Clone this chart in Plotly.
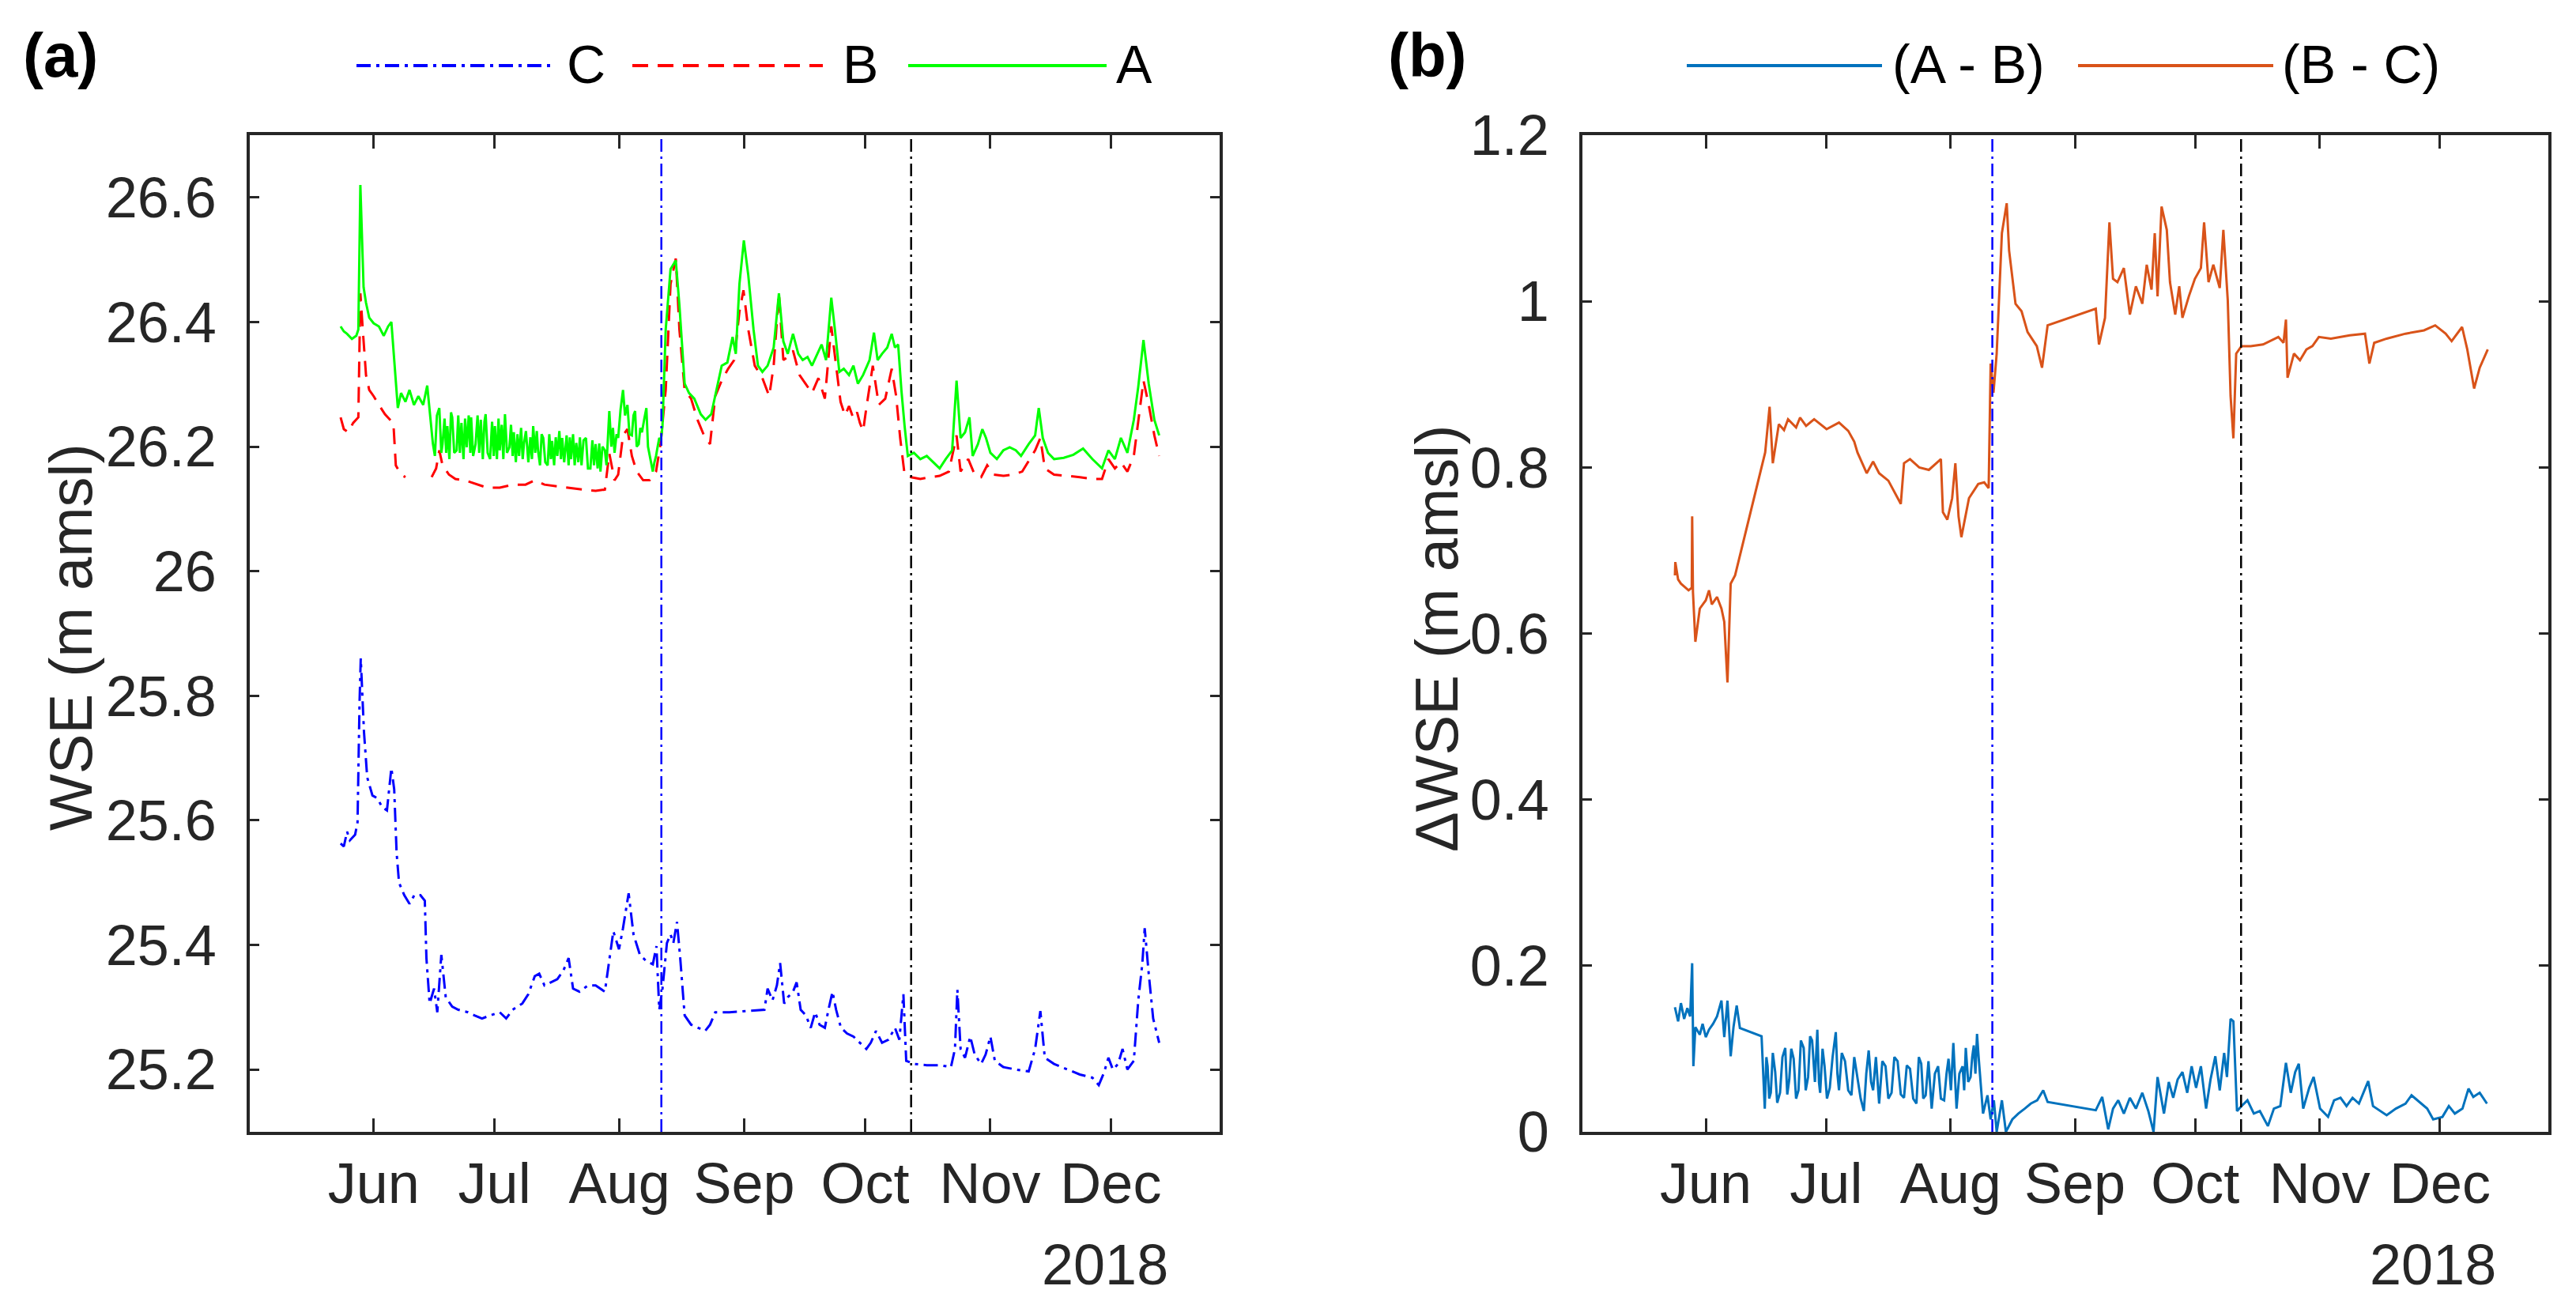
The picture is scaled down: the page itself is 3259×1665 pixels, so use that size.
import pandas as pd
import plotly.graph_objects as go

# ---------------- data (days relative to 2018-06-01) ----------------
a_days = [-8.2, -7.4, -6.6, -5.4, -4.3, -3.8, -3.3, -2.5, -1.9, -1.1, 0.0, 1.3, 2.5, 3.6, 4.4, 5.4, 6.0, 6.8, 7.9,
          8.9, 10.0, 11.1, 12.3, 13.3, 14.2, 14.7, 15.2, 15.7, 16.3, 16.8, 17.1, 17.6, 18.0, 18.3, 18.8, 19.2,
          19.5, 20.0, 20.6, 21.0, 21.4, 21.8, 22.3, 22.7, 23.1, 23.6, 24.0, 24.2, 24.7, 25.3, 25.8, 26.2, 26.6,
          27.1, 27.5, 27.8, 28.3, 28.9, 29.4, 29.8, 30.1, 30.6, 31.0, 31.3, 31.8, 32.2, 32.6, 33.1, 33.7, 34.1,
          34.5, 34.8, 35.3, 35.7, 36.1, 36.6, 37.0, 37.3, 37.8, 38.1, 38.4, 38.9, 39.3, 39.6, 40.1, 40.5, 40.8,
          41.3, 41.7, 42.1, 42.6, 43.2, 43.6, 44.0, 44.3, 44.8, 45.2, 45.6, 46.1, 46.5, 46.8, 47.3, 47.9, 48.4,
          48.7, 49.0, 49.5, 49.9, 50.3, 50.8, 51.2, 51.6, 52.1, 52.7, 53.2, 53.8, 54.3, 54.7, 55.1, 55.6, 56.0,
          56.3, 56.8, 57.4, 57.8, 58.5, 59.0, 59.4, 59.8, 60.3, 60.7, 61.3, 61.9, 62.4, 63.0, 63.5, 64.1, 64.5,
          64.9, 65.3, 65.8, 66.2, 66.6, 67.2, 67.7, 68.1, 68.5, 69.0, 69.3, 69.7, 70.1, 70.5, 70.9, 71.3, 71.7,
          72.5, 73.7, 75.0, 75.9, 77.2, 78.3, 79.6, 81.2, 82.4, 83.8, 85.1, 86.4, 87.8, 89.1, 89.9, 90.8, 91.9,
          93.0, 94.3, 95.4, 96.5, 97.8, 99.3, 100.6, 101.7, 102.8, 104.1, 105.4, 106.5, 107.7, 108.8, 110.1,
          111.2, 112.3, 113.6, 114.5, 115.6, 116.7, 118.0, 119.1, 120.2, 121.5, 123.1, 124.2, 125.1, 126.2,
          127.5, 128.6, 129.4, 130.2, 131.0, 131.8, 132.6, 134.1, 135.7, 137.3, 138.9, 140.5, 142.0, 143.6,
          144.7, 145.7, 146.8, 147.9, 148.7, 150.0, 151.1, 152.0, 153.1, 154.7, 156.3, 157.9, 159.4, 160.7,
          162.6, 164.2, 165.1, 166.1, 167.4, 168.9, 171.3, 173.7, 176.1, 178.4, 180.8, 182.4, 184.0, 185.5,
          187.1, 188.7, 189.8, 191.1, 192.4, 193.8, 195.0]
a_wse = [26.393, 26.385, 26.381, 26.373, 26.378, 26.388, 26.620, 26.456, 26.431, 26.407, 26.398, 26.393, 26.378,
         26.393, 26.400, 26.320, 26.262, 26.286, 26.272, 26.291, 26.267, 26.281, 26.267, 26.298, 26.243, 26.205,
         26.185, 26.250, 26.262, 26.190, 26.204, 26.245, 26.190, 26.233, 26.180, 26.255, 26.247, 26.190, 26.194,
         26.250, 26.190, 26.238, 26.180, 26.245, 26.199, 26.250, 26.190, 26.247, 26.185, 26.204, 26.250, 26.190,
         26.243, 26.180, 26.240, 26.252, 26.190, 26.180, 26.240, 26.185, 26.233, 26.180, 26.245, 26.194, 26.235,
         26.180, 26.252, 26.190, 26.199, 26.235, 26.185, 26.223, 26.175, 26.220, 26.185, 26.230, 26.180, 26.204,
         26.225, 26.200, 26.175, 26.215, 26.180, 26.233, 26.190, 26.225, 26.194, 26.170, 26.220, 26.214, 26.175,
         26.170, 26.220, 26.180, 26.209, 26.170, 26.215, 26.185, 26.225, 26.180, 26.214, 26.175, 26.218, 26.170,
         26.215, 26.180, 26.220, 26.170, 26.206, 26.175, 26.215, 26.170, 26.210, 26.214, 26.165, 26.165, 26.210,
         26.170, 26.204, 26.165, 26.205, 26.160, 26.200, 26.194, 26.170, 26.257, 26.200, 26.230, 26.190, 26.220,
         26.214, 26.260, 26.291, 26.250, 26.267, 26.220, 26.218, 26.250, 26.257, 26.200, 26.204, 26.230, 26.223,
         26.245, 26.262, 26.200, 26.185, 26.170, 26.160, 26.175, 26.185, 26.200, 26.214, 26.210, 26.233, 26.388,
         26.485, 26.499, 26.427, 26.301, 26.286, 26.277, 26.252, 26.243, 26.252, 26.291, 26.330, 26.335, 26.376,
         26.349, 26.461, 26.531, 26.475, 26.388, 26.330, 26.320, 26.330, 26.359, 26.446, 26.369, 26.349, 26.381,
         26.349, 26.339, 26.344, 26.330, 26.349, 26.364, 26.339, 26.439, 26.388, 26.320, 26.325, 26.315, 26.330,
         26.301, 26.315, 26.339, 26.383, 26.339, 26.349, 26.359, 26.381, 26.359, 26.364, 26.291, 26.233, 26.185,
         26.190, 26.180, 26.185, 26.175, 26.165, 26.180, 26.194, 26.306, 26.214, 26.223, 26.247, 26.185, 26.204,
         26.228, 26.214, 26.190, 26.180, 26.194, 26.199, 26.194, 26.185, 26.204, 26.218, 26.262, 26.214, 26.190,
         26.180, 26.182, 26.187, 26.197, 26.180, 26.165, 26.194, 26.180, 26.214, 26.190, 26.243, 26.296, 26.371,
         26.301, 26.243, 26.218]

b_days = [-8.2, -7.4, -6.3, -5.1, -3.8, -3.3, -2.7, -1.9, -1.1, 0.0, 1.3, 2.8, 4.1, 4.9, 5.5, 6.8, 7.9, 11.0,
          14.4, 15.5, 16.3, 17.1, 18.7, 20.3, 22.6, 25.0, 28.2, 31.3, 34.5, 37.7, 40.0, 42.4, 45.6, 48.7, 51.9,
          55.1, 57.4, 58.5, 59.8, 60.7, 61.9, 63.0, 64.1, 65.3, 66.9, 68.5, 70.1, 71.2, 72.5, 73.7, 75.0, 75.9,
          77.2, 78.8, 80.4, 82.0, 83.5, 84.8, 86.4, 88.0, 89.5, 90.8, 91.8, 93.0, 94.6, 96.5, 98.2, 99.3, 100.6,
          101.7, 102.8, 104.1, 105.7, 107.2, 108.8, 110.4, 112.0, 113.6, 114.8, 115.9, 117.0, 118.0, 119.1, 120.0,
          120.7, 121.5, 122.3, 123.9, 125.4, 127.0, 128.6, 129.7, 130.7, 131.8, 133.4, 135.7, 138.1, 140.5, 142.8,
          144.7, 145.7, 147.6, 149.2, 150.8, 152.3, 153.9, 156.3, 158.7, 161.0, 164.2, 165.5, 166.6, 168.9, 172.1,
          175.3, 178.4, 180.8, 182.4, 184.0, 185.5, 187.1, 188.7, 189.8, 191.1, 192.4, 193.8, 195.0]
b_wse = [26.247, 26.228, 26.223, 26.238, 26.247, 26.446, 26.388, 26.315, 26.291, 26.281, 26.267, 26.252, 26.243,
         26.238, 26.170, 26.155, 26.151, None, 26.151, 26.165, 26.194, 26.170, 26.155, 26.148, 26.146, 26.141,
         26.134, 26.134, 26.139, 26.139, 26.146, 26.139, 26.136, 26.134, 26.131, 26.129, 26.131, 26.189, 26.146,
         26.155, 26.218, 26.228, 26.185, 26.160, 26.146, 26.146, 26.160, 26.204, 26.291, 26.461, 26.502, 26.388,
         26.291, 26.277, 26.243, 26.218, 26.204, 26.281, 26.306, 26.325, 26.339, 26.417, 26.451, 26.388, 26.330,
         26.310, 26.281, 26.330, 26.446, 26.339, 26.344, 26.354, 26.315, 26.301, 26.286, 26.310, 26.277, 26.393,
         26.330, 26.272, 26.250, 26.265, 26.245, 26.255, 26.238, 26.225, 26.262, 26.330, 26.267, 26.277, 26.325,
         26.281, 26.214, 26.155, 26.151, 26.148, 26.151, 26.153, 26.160, 26.218, 26.160, 26.180, 26.155, 26.151,
         26.170, 26.155, 26.153, 26.155, 26.160, 26.194, 26.214, 26.165, 26.155, 26.153, 26.151, 26.148, 26.148,
         26.180, 26.165, 26.175, 26.160, 26.185, 26.243, 26.306, 26.267, 26.218, 26.185]

c_days = [-8.2, -7.4, -6.6, -5.9, -4.6, -4.0, -3.5, -3.2, -2.4, -1.6, -0.3, 1.0, 2.1, 3.3, 4.4, 5.1, 5.7, 6.3,
          7.6, 8.9, 10.1, 11.6, 12.7, 13.1, 13.9, 15.0, 15.8, 16.8, 17.9, 19.5, 21.0, 23.4, 25.0, 26.9, 29.0,
          31.3, 32.9, 34.5, 36.9, 38.4, 40.0, 41.1, 42.4, 44.0, 45.6, 47.1, 48.4, 49.5, 51.1, 53.2, 55.1, 57.4,
          59.5, 60.9, 61.9, 63.3, 64.5, 66.1, 67.7, 69.3, 70.2, 70.9, 71.7, 72.8, 73.7, 74.4, 75.3, 76.1, 77.2,
          78.8, 80.4, 82.3, 83.5, 84.8, 88.3, 93.0, 97.0, 97.8, 99.0, 100.1, 100.9, 101.9, 102.8, 104.1, 105.0,
          106.0, 107.3, 108.5, 109.6, 110.7, 112.0, 112.9, 113.9, 114.8, 116.0, 117.5, 119.1, 120.7, 122.3, 123.4,
          124.7, 126.2, 127.8, 129.4, 130.5, 131.5, 132.2, 134.1, 137.3, 140.5, 143.3, 144.3, 144.9, 145.7, 146.8,
          148.1, 149.2, 150.8, 151.9, 153.1, 154.2, 156.3, 159.4, 162.6, 164.2, 165.5, 166.6, 168.9, 172.1, 175.3,
          178.4, 180.0, 181.3, 182.4, 183.5, 184.8, 185.9, 187.1, 188.7, 189.8, 190.8, 191.4, 192.4, 193.5, 195.0]
c_wse = [25.563, 25.558, 25.582, 25.568, 25.577, 25.597, 25.790, 25.860, 25.742, 25.669, 25.640, 25.635, 25.621,
         25.616, 25.684, 25.650, 25.548, 25.500, 25.480, 25.466, 25.480, 25.480, 25.471, 25.379, 25.306, 25.330,
         25.292, 25.384, 25.316, 25.301, 25.296, 25.292, 25.287, 25.282, 25.287, 25.292, 25.282, 25.296, 25.306,
         25.321, 25.350, 25.354, 25.335, 25.340, 25.345, 25.359, 25.379, 25.330, 25.325, 25.335, 25.335, 25.325,
         25.422, 25.393, 25.427, 25.483, 25.417, 25.384, 25.374, 25.369, 25.398, 25.296, 25.330, 25.403, 25.417,
         25.403, 25.437, 25.379, 25.287, 25.272, 25.267, 25.262, 25.272, 25.292, 25.292, 25.294, 25.296, 25.330,
         25.311, 25.335, 25.371, 25.306, 25.316, 25.325, 25.340, 25.296, 25.287, 25.267, 25.292, 25.272, 25.267,
         25.296, 25.325, 25.296, 25.267, 25.258, 25.253, 25.243, 25.233, 25.243, 25.262, 25.243, 25.248, 25.267,
         25.248, 25.321, 25.214, 25.209, 25.207, 25.207, 25.204, 25.233, 25.328, 25.233, 25.219, 25.253, 25.224,
         25.209, 25.224, 25.253, 25.214, 25.204, 25.200, 25.197, 25.233, 25.294, 25.219, 25.209, 25.200, 25.192,
         25.187, 25.175, 25.195, 25.219, 25.200, 25.209, 25.233, 25.200, 25.214, 25.311, 25.369, 25.427, 25.354,
         25.282, 25.243]

ab_days = [-7.7, -6.9, -6.2, -5.4, -4.6, -3.9, -3.4, -3.1, -2.6, -1.5, -0.8, 0.0, 0.8, 1.8, 2.8, 3.9, 4.6, 5.4,
           6.2, 6.9, 7.7, 8.5, 13.9, 14.7, 15.1, 15.4, 15.8, 16.2, 16.7, 17.3, 17.8, 18.5, 19.1, 19.8, 20.3, 20.8,
           21.3, 21.9, 22.5, 23.1, 23.7, 24.4, 24.9, 25.5, 26.0, 26.5, 27.2, 27.8, 28.2, 28.5, 29.1, 29.6, 30.2,
           30.9, 31.6, 32.4, 32.8, 33.2, 33.9, 34.7, 35.5, 36.3, 37.0, 37.8, 38.6, 39.4, 40.0, 40.6, 41.2, 41.7,
           42.4, 43.2, 44.0, 44.8, 45.5, 46.3, 47.0, 47.8, 48.6, 49.4, 50.1, 50.9, 51.7, 52.5, 53.1, 53.7, 54.2,
           54.8, 55.5, 56.3, 57.1, 57.9, 58.6, 59.4, 60.0, 60.5, 61.1, 61.7, 62.1, 62.5, 63.2, 64.0, 64.4, 64.8,
           65.4, 66.0, 66.4, 66.8, 67.2, 67.6, 68.0, 68.4, 69.1, 70.2, 71.0, 71.8, 72.5, 73.8, 74.8, 76.4, 77.9,
           79.5, 81.0, 82.6, 84.1, 85.2, 97.2, 98.8, 100.3, 101.5, 102.8, 104.2, 105.7, 107.2, 108.8, 110.3, 111.6,
           112.6, 114.2, 115.4, 116.5, 117.6, 118.8, 120.0, 121.1, 122.2, 123.4, 124.7, 125.8, 127.0, 128.1, 129.2,
           129.9, 130.8, 131.5, 132.4, 133.5, 135.0, 136.6, 138.1, 140.1, 141.6, 143.2, 144.6, 145.8, 146.9, 147.8,
           148.9, 150.4, 151.5, 153.1, 155.1, 156.6, 158.2, 159.7, 161.2, 162.8, 163.9, 165.1, 166.3, 168.2, 169.7,
           172.0, 174.4, 175.9, 178.2, 179.8, 181.3, 183.6, 185.2, 186.7, 188.6, 190.1, 191.3, 192.9, 194.7]
ab_vals = [0.150, 0.133, 0.155, 0.136, 0.149, 0.139, 0.203, 0.079, 0.126, 0.117, 0.130, 0.114, 0.123, 0.130,
           0.139, 0.158, 0.114, 0.158, 0.091, 0.126, 0.152, 0.125, 0.115, 0.028, 0.090, 0.079, 0.040, 0.047, 0.095,
           0.072, 0.035, 0.047, 0.090, 0.101, 0.045, 0.063, 0.100, 0.088, 0.040, 0.050, 0.110, 0.101, 0.050, 0.066,
           0.115, 0.110, 0.060, 0.123, 0.060, 0.047, 0.100, 0.079, 0.040, 0.053, 0.090, 0.120, 0.070, 0.050, 0.095,
           0.085, 0.050, 0.044, 0.090, 0.066, 0.040, 0.025, 0.070, 0.098, 0.060, 0.050, 0.090, 0.034, 0.085, 0.079,
           0.040, 0.047, 0.090, 0.085, 0.045, 0.041, 0.080, 0.076, 0.040, 0.034, 0.090, 0.082, 0.040, 0.044, 0.085,
           0.028, 0.070, 0.079, 0.040, 0.038, 0.070, 0.088, 0.050, 0.107, 0.060, 0.028, 0.070, 0.079, 0.050, 0.101,
           0.060, 0.066, 0.090, 0.104, 0.070, 0.118, 0.090, 0.063, 0.022, 0.044, 0.015, 0.038, 0.000, 0.038, 0.000,
           0.015, 0.022, 0.028, 0.034, 0.038, 0.050, 0.036, 0.026, 0.042, 0.003, 0.028, 0.038, 0.022, 0.041, 0.028,
           0.047, 0.025, 0.000, 0.066, 0.022, 0.060, 0.041, 0.063, 0.072, 0.047, 0.079, 0.053, 0.079, 0.028, 0.063,
           0.091, 0.050, 0.095, 0.066, 0.136, 0.133, 0.025, 0.031, 0.038, 0.022, 0.025, 0.007, 0.028, 0.031, 0.083,
           0.047, 0.072, 0.082, 0.028, 0.053, 0.066, 0.028, 0.018, 0.038, 0.041, 0.031, 0.041, 0.034, 0.047, 0.061,
           0.031, 0.025, 0.020, 0.028, 0.034, 0.044, 0.034, 0.028, 0.015, 0.018, 0.031, 0.022, 0.028, 0.052, 0.042,
           0.047, 0.034]

bc_days = [-7.7, -7.6, -6.9, -6.2, -4.3, -3.5, -3.4, -3.2, -2.6, -1.5, 0.0, 0.8, 1.5, 2.8, 3.9, 4.6, 5.4, 6.2,
           7.3, 14.8, 15.9, 16.7, 18.2, 19.5, 20.5, 21.6, 22.5, 23.5, 25.0, 27.0, 30.1, 33.2, 35.5, 37.0, 37.8,
           40.1, 41.7, 43.2, 45.5, 48.6, 49.4, 50.9, 53.2, 55.6, 58.6, 59.1, 60.2, 61.4, 62.2, 63.0, 63.7, 65.6,
           67.9, 69.4, 70.5, 71.0, 71.7, 72.5, 73.8, 75.0, 75.6, 77.2, 78.7, 80.2, 82.5, 83.8, 85.2, 97.2, 98.0,
           99.5, 100.6, 101.5, 102.6, 104.2, 105.7, 107.2, 108.8, 109.9, 111.1, 111.9, 112.6, 113.6, 114.9, 115.7,
           117.0, 118.0, 118.8, 120.4, 121.9, 123.4, 124.2, 125.3, 126.5, 128.1, 129.0, 130.1, 130.8, 131.5, 132.2,
           133.5, 135.8, 138.9, 142.7, 144.0, 144.6, 145.0, 146.6, 148.1, 149.7, 151.2, 152.8, 155.8, 160.5, 164.3,
           165.4, 166.6, 169.7, 174.4, 179.0, 181.8, 184.4, 185.9, 188.5, 189.8, 191.5, 192.9, 194.9]
bc_vals = [0.670, 0.686, 0.665, 0.660, 0.652, 0.655, 0.741, 0.650, 0.590, 0.630, 0.640, 0.652, 0.635, 0.644,
           0.630, 0.614, 0.541, 0.660, 0.670, 0.818, 0.873, 0.805, 0.852, 0.845, 0.858, 0.852, 0.848, 0.860, 0.850,
           0.858, 0.846, 0.854, 0.844, 0.831, 0.818, 0.793, 0.807, 0.793, 0.784, 0.756, 0.805, 0.810, 0.800, 0.797,
           0.810, 0.746, 0.737, 0.763, 0.805, 0.741, 0.716, 0.763, 0.780, 0.782, 0.775, 0.925, 0.890, 0.937, 1.082,
           1.118, 1.061, 0.997, 0.988, 0.963, 0.946, 0.920, 0.971, 0.991, 0.948, 0.980, 1.095, 1.027, 1.023, 1.040,
           0.984, 1.018, 0.997, 1.044, 1.014, 1.082, 1.006, 1.114, 1.086, 1.023, 0.984, 1.018, 0.980, 1.006, 1.027,
           1.040, 1.095, 1.023, 1.044, 1.016, 1.086, 1.001, 0.886, 0.835, 0.937, 0.946, 0.946, 0.948, 0.957, 0.950,
           0.978, 0.908, 0.937, 0.929, 0.942, 0.946, 0.957, 0.955, 0.959, 0.961, 0.925, 0.950, 0.955, 0.961, 0.965,
           0.971, 0.961, 0.952, 0.969, 0.942, 0.895, 0.920, 0.942]

event_dates = ["2018-08-11 10:00", "2018-10-12 10:00"]
event_colors = ["#0000FF", "#000000"]
month_ticks = ["2018-06-01", "2018-07-01", "2018-08-01", "2018-09-01", "2018-10-01", "2018-11-01", "2018-12-01"]
month_labels = ["Jun", "Jul", "Aug", "Sep", "Oct", "Nov", "Dec"]
a_yticks = [25.2, 25.4, 25.6, 25.8, 26.0, 26.2, 26.4, 26.6]
a_ylabels = ["25.2", "25.4", "25.6", "25.8", "26", "26.2", "26.4", "26.6"]
b_yticks = [0, 0.2, 0.4, 0.6, 0.8, 1.0, 1.2]
b_ylabels = ["0", "0.2", "0.4", "0.6", "0.8", "1", "1.2"]
x_range = ["2018-05-01 06:00", "2018-12-28 00:00"]

# ---------------- figure ----------------
BASE = pd.Timestamp("2018-06-01")


def to_dates(days):
    return [BASE + pd.Timedelta(days=d) for d in days]


W, H = 3259, 1665
OFF = 8  # page body margin compensation
FONT = "Liberation Sans, Arial, Helvetica, sans-serif"
AX = "#262626"

fig = go.Figure()

fig.add_trace(go.Scatter(x=to_dates(c_days), y=c_wse, mode="lines", name="C", xaxis="x", yaxis="y",
                         line=dict(color="#0000FF", width=3, dash="18px,7px,4px,7px"), showlegend=False))
fig.add_trace(go.Scatter(x=to_dates(b_days), y=b_wse, mode="lines", name="B", xaxis="x", yaxis="y",
                         line=dict(color="#FF0000", width=3, dash="20px,12px"), showlegend=False, connectgaps=False))
fig.add_trace(go.Scatter(x=to_dates(a_days), y=a_wse, mode="lines", name="A", xaxis="x", yaxis="y",
                         line=dict(color="#00FF00", width=3), showlegend=False))
fig.add_trace(go.Scatter(x=to_dates(ab_days), y=ab_vals, mode="lines", name="(A - B)", xaxis="x2", yaxis="y2",
                         line=dict(color="#0072BD", width=3), showlegend=False))
fig.add_trace(go.Scatter(x=to_dates(bc_days), y=bc_vals, mode="lines", name="(B - C)", xaxis="x2", yaxis="y2",
                         line=dict(color="#D95319", width=3), showlegend=False))

# event lines
for ax in ("x", "x2"):
    yref = "y domain" if ax == "x" else "y2 domain"
    for d, c in zip(event_dates, event_colors):
        fig.add_shape(type="line", xref=ax, yref=yref, x0=d, x1=d, y0=0, y1=1,
                      line=dict(color=c, width=2.5, dash="16px,6px,3px,6px"), layer="above")


def px(xp):
    return (xp - OFF) / W


def py(yp):
    return 1 - (yp - OFF) / H


xdom_a = [px(316), px(1543)]
xdom_b = [px(2002), px(3224)]
ydom = [py(1432), py(171)]

common_x = dict(type="date", range=x_range, tickvals=month_ticks, ticktext=month_labels,
                showline=True, linecolor=AX, linewidth=3.5, mirror="ticks", ticks="inside",
                ticklen=17, tickwidth=3, tickcolor=AX, showgrid=False, zeroline=False, automargin=False,
                tickfont=dict(family=FONT, size=72, color=AX), ticklabelstandoff=0)
common_y = dict(showline=True, linecolor=AX, linewidth=3.5, mirror="ticks", ticks="inside",
                ticklen=12, tickwidth=3, tickcolor=AX, showgrid=False, zeroline=False, automargin=False,
                tickfont=dict(family=FONT, size=72, color=AX), ticklabelstandoff=24)

fig.update_layout(
    template="none",
    width=W, height=H, margin=dict(l=0, r=0, t=0, b=0, pad=0, autoexpand=False),
    paper_bgcolor="white", plot_bgcolor="white",
    xaxis=dict(domain=xdom_a, anchor="y", **common_x),
    yaxis=dict(domain=ydom, anchor="x", range=[25.1, 26.7], tickvals=a_yticks, ticktext=a_ylabels, **common_y),
    xaxis2=dict(domain=xdom_b, anchor="y2", **common_x),
    yaxis2=dict(domain=ydom, anchor="x2", range=[0, 1.2], tickvals=b_yticks, ticktext=b_ylabels, **common_y),
    showlegend=False,
)

ann = []
# panel letters
ann.append(dict(text="<b>(a)</b>", x=px(76), y=py(70), xref="paper", yref="paper", showarrow=False,
                font=dict(family=FONT, size=78, color="black"), xanchor="center", yanchor="middle"))
ann.append(dict(text="<b>(b)</b>", x=px(1806), y=py(70), xref="paper", yref="paper", showarrow=False,
                font=dict(family=FONT, size=78, color="black"), xanchor="center", yanchor="middle"))
# y titles
ann.append(dict(text="WSE (m amsl)", x=px(89), y=py(806), xref="paper", yref="paper", showarrow=False,
                textangle=-90, font=dict(family=FONT, size=76, color=AX), xanchor="center", yanchor="middle"))
ann.append(dict(text="\u0394WSE (m amsl)", x=px(1817), y=py(808), xref="paper", yref="paper", showarrow=False,
                textangle=-90, font=dict(family=FONT, size=76, color=AX), xanchor="center", yanchor="middle"))
# year labels
ann.append(dict(text="2018", x=px(1398), y=py(1600), xref="paper", yref="paper", showarrow=False,
                font=dict(family=FONT, size=72, color=AX), xanchor="center", yanchor="middle"))
ann.append(dict(text="2018", x=px(3078), y=py(1600), xref="paper", yref="paper", showarrow=False,
                font=dict(family=FONT, size=72, color=AX), xanchor="center", yanchor="middle"))

# legends (drawn manually to match long line samples)
legend_items = [
    ("C", "#0000FF", "18px,7px,4px,7px", 451, 700, 715),
    ("B", "#FF0000", "20px,12px", 800, 1041, 1064),
    ("A", "#00FF00", "solid", 1149, 1400, 1410),
    ("(A - B)", "#0072BD", "solid", 2134, 2381, 2392),
    ("(B - C)", "#D95319", "solid", 2629, 2876, 2885),
]
for name, col, dash, x0, x1, xt in legend_items:
    fig.add_shape(type="line", xref="paper", yref="paper", x0=px(x0), x1=px(x1), y0=py(83), y1=py(83),
                  line=dict(color=col, width=4, dash=dash))
    ann.append(dict(text=name, x=px(xt), y=py(81), xref="paper", yref="paper", showarrow=False,
                    font=dict(family=FONT, size=68, color="black"), xanchor="left", yanchor="middle"))

fig.update_layout(annotations=ann)

fig.write_html("out.html")
